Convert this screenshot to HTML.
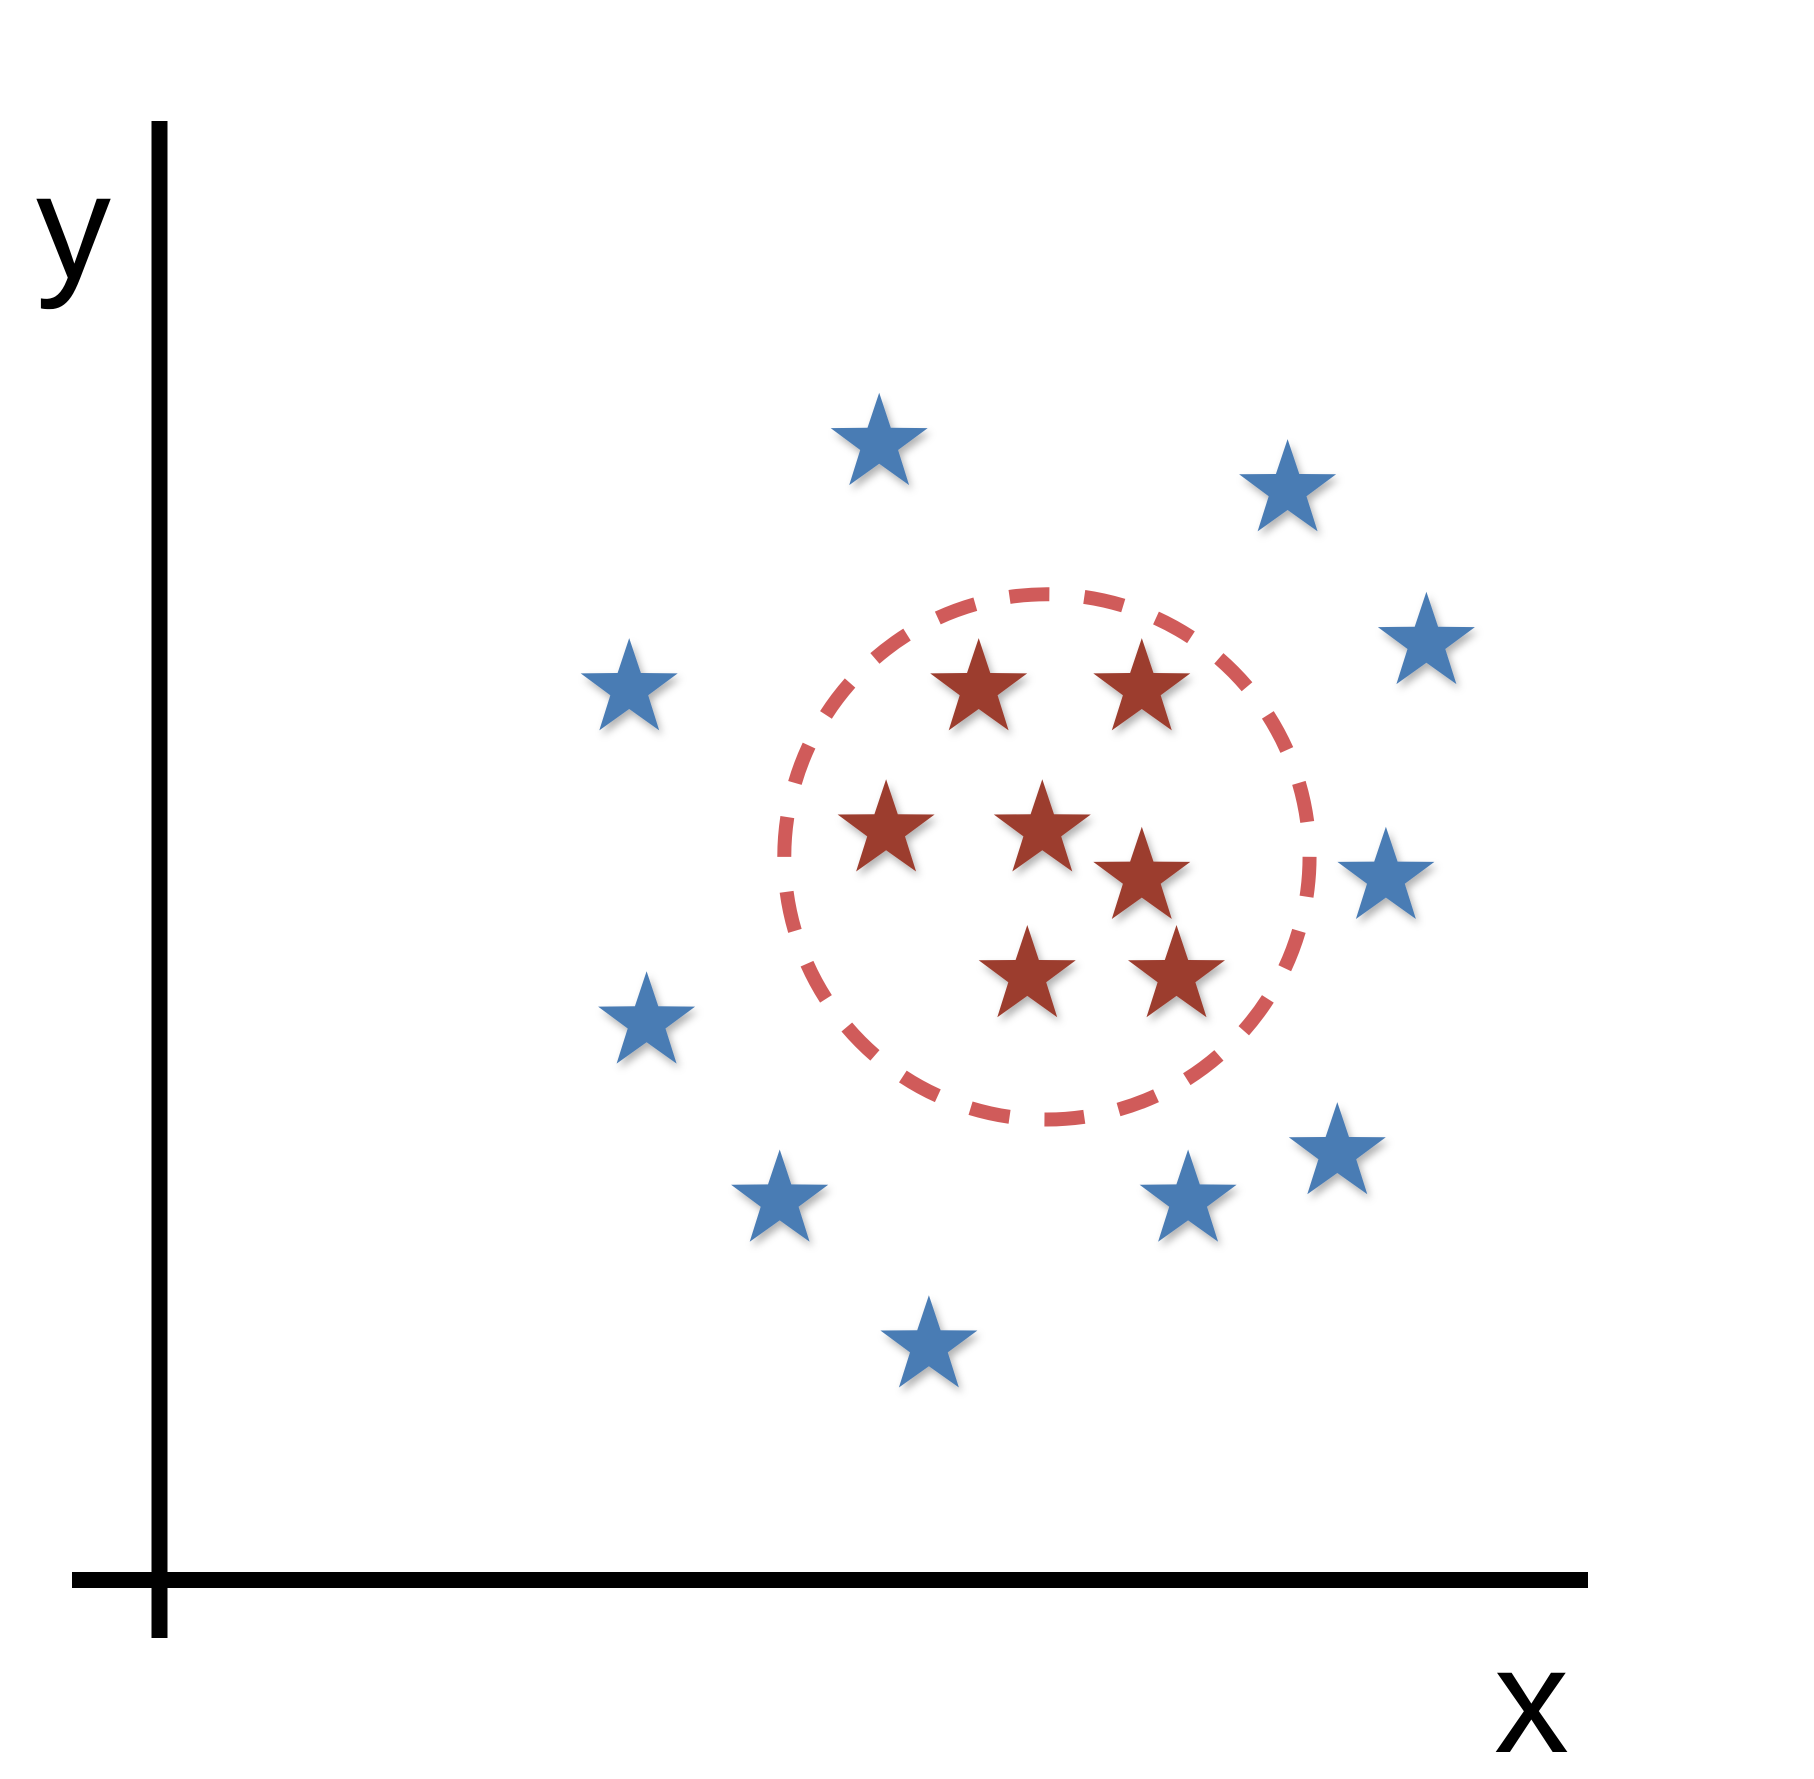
<!DOCTYPE html>
<html><head><meta charset="utf-8"><style>
html,body{margin:0;padding:0;background:#fff;}
svg{display:block;}
text{font-family:"Liberation Sans",sans-serif;}
</style></head><body>
<svg id="chart" width="1814" height="1779" viewBox="0 0 1814 1779">
<defs><filter id="sh" x="-30%" y="-30%" width="160%" height="160%"><feDropShadow dx="3" dy="5" stdDeviation="4" flood-color="#000" flood-opacity="0.3"/></filter></defs>
<line x1="159.5" y1="121" x2="159.5" y2="1638" stroke="#000" stroke-width="16"/>
<line x1="72" y1="1580" x2="1588" y2="1580" stroke="#000" stroke-width="16"/>
<text x="36" y="278" font-size="150">y</text>
<text x="1494" y="1752" font-size="150">x</text>
<g id="marks"></g>
</svg>
<script>
// data units: x in [0,1230], y in [0,1260] (y up from x-axis)
const blueX=[622,975,1095,406,1060,421,536,889,1018,665];
const blueY=[982,942,810,770,607,482,328,328,369,202];
const redX=[708,849,628,763,849,750,879];
const redY=[770,770,648,648,607,522,522];
const circleCX=767, circleCY=625, circleR=227;
const ox=159.5, oy=1580, k=1.157;
function sx(v){return ox+v*k;}
function sy(v){return oy-v*k;}
const g=document.getElementById('marks');
const NS='http://www.w3.org/2000/svg';
const c=document.createElementNS(NS,'ellipse');


c.setAttribute('cx',sx(circleCX));c.setAttribute('cy',sy(circleCY));
c.setAttribute('rx',circleR*k);c.setAttribute('ry',circleR*k);
c.setAttribute('fill','none');c.setAttribute('stroke','#d05b5a');
c.setAttribute('stroke-width','14');c.setAttribute('stroke-dasharray','40 35');
g.appendChild(c);
function star(cx,cy,R,fill){
  let pts=[];
  for(let i=0;i<10;i++){
    const r=i%2?R*0.39:R;
    const a=-Math.PI/2+i*Math.PI/5;
    pts.push((cx+r*Math.cos(a)).toFixed(1)+','+(cy+r*Math.sin(a)).toFixed(1));
  }
  const p=document.createElementNS(NS,'polygon');
  p.setAttribute('points',pts.join(' '));
  p.setAttribute('fill',fill);
  p.setAttribute('filter','url(#sh)');
  return p;
}
for(let i=0;i<blueX.length;i++){
  const s=star(sx(blueX[i]),sy(blueY[i]),51,'#4a7bb4');
  
  
  g.appendChild(s);
}
for(let i=0;i<redX.length;i++){
  const s=star(sx(redX[i]),sy(redY[i]),51,'#9c3c2f');
  
  
  g.appendChild(s);
}
</script>
</body></html>
